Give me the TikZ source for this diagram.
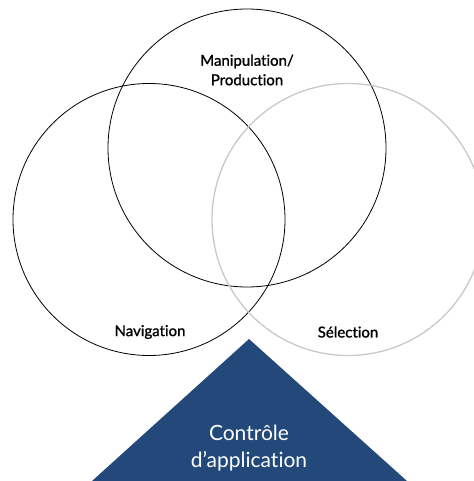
\documentclass[tikz,border=0pt]{standalone}
\usepackage{fontspec}
\setmainfont{Lato}[Ligatures=NoCommon]
\newfontfamily\labfont{Lato}[Ligatures=NoCommon,FakeBold=1.2]
\definecolor{tribl}{RGB}{35,73,122}
\definecolor{lightc}{RGB}{200,200,200}
\begin{document}
\begin{tikzpicture}[x=1pt,y=-1pt,
  ring/.style={circle,draw,inner sep=0pt},
  lab/.style={font=\labfont\fontsize{15}{19.5}\selectfont,align=center,text=black},
  tlab/.style={font=\fontsize{21}{27}\selectfont,align=center,text=white}]
\useasboundingbox (0,0) rectangle (473,481);
\node[ring,draw=black,line width=0.8pt,minimum size=278pt] (manip) at (247,148) {};
\node[ring,draw=black,line width=0.8pt,minimum size=272pt] (nav) at (149,219.5) {};
\node[ring,draw=lightc,line width=1.3pt,minimum size=272pt] (sel) at (348,219.5) {};
\fill[tribl] (249,339) -- (407,481) -- (92,481) -- cycle;
\node[lab] (tmanip) at (247,70) {Manipulation/\\Production};
\node[lab] (tnav) at (150,332) {Navigation};
\node[lab] (tsel) at (348,332) {Sélection};
\node[tlab] (tctrl) at (249,448) {Contrôle\\d’application};
\end{tikzpicture}
\end{document}
